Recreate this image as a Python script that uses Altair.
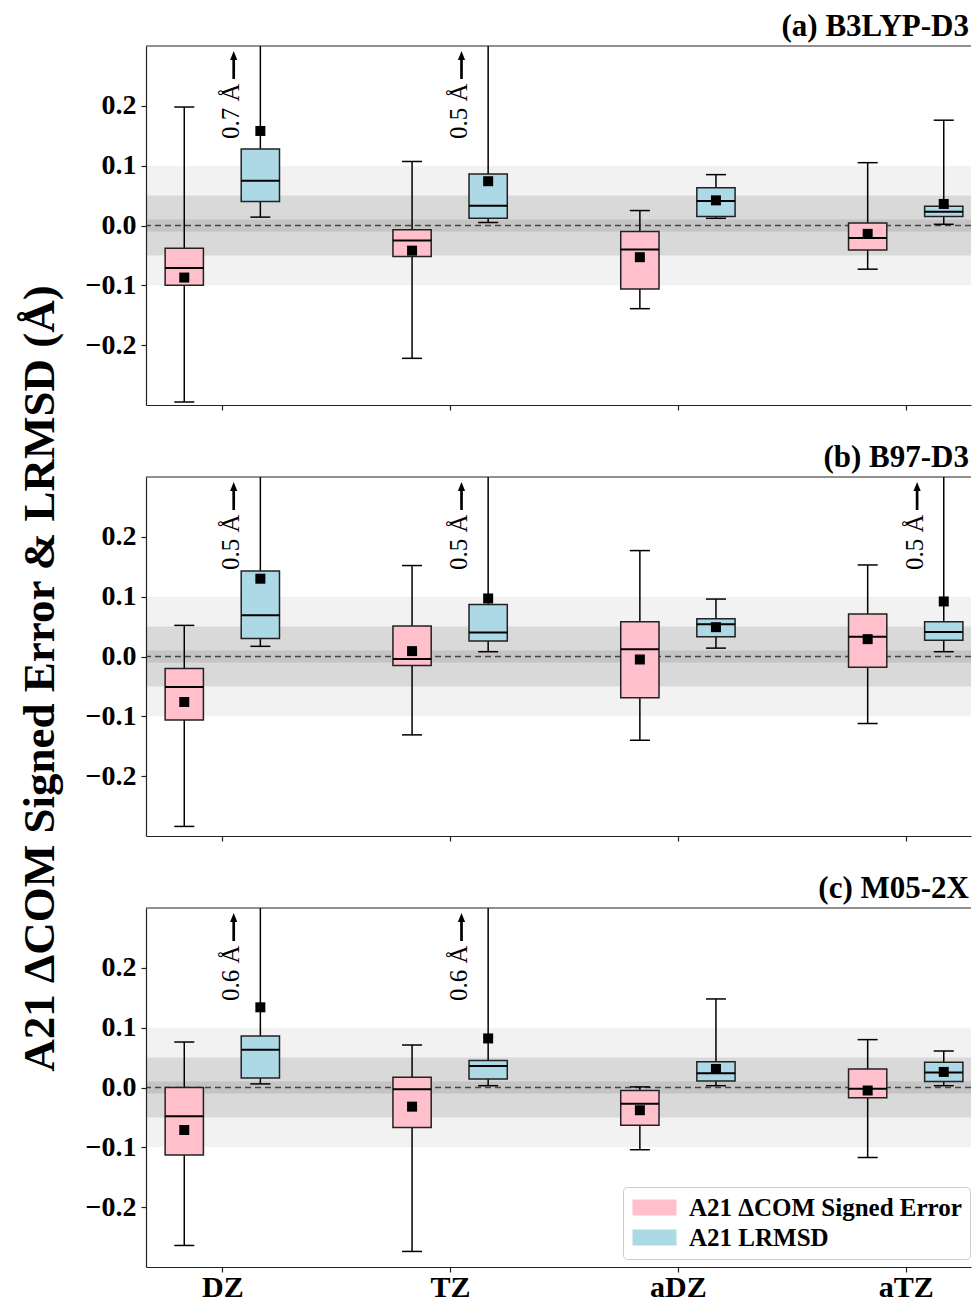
import altair as alt
import pandas as pd

categories = ["DZ", "TZ", "aDZ", "aTZ"]
panel_titles = ["(a) B3LYP-D3", "(b) B97-D3", "(c) M05-2X"]
series_names = ["A21 ΔCOM Signed Error", "A21 LRMSD"]
series_colors = ["#FFC0CB", "#ADD8E6"]
y_ticks = [-0.2, -0.1, 0.0, 0.1, 0.2]
band_limits = [0.1, 0.05, 0.01]
band_colors = ["#f2f2f2", "#d9d9d9", "#c4c4c4"]
y_title = "A21 ΔCOM Signed Error & LRMSD (Å)"

# one row per basis set: [whisker low, Q1, median, Q3, whisker high, mean]
b3lyp_signed = [[-0.295, -0.100, -0.071, -0.038, 0.198, -0.087],
                [-0.222, -0.052, -0.025, -0.007, 0.107, -0.042],
                [-0.139, -0.106, -0.040, -0.010, 0.025, -0.053],
                [-0.073, -0.041, -0.021, 0.004, 0.105, -0.014]]
b3lyp_lrmsd = [[0.014, 0.040, 0.075, 0.128, 0.7, 0.158],
               [0.005, 0.012, 0.033, 0.086, 0.5, 0.074],
               [0.012, 0.015, 0.041, 0.063, 0.085, 0.042],
               [0.002, 0.015, 0.023, 0.032, 0.176, 0.036]]
b97_signed = [[-0.284, -0.106, -0.051, -0.020, 0.052, -0.076],
              [-0.131, -0.015, -0.004, 0.051, 0.152, 0.009],
              [-0.140, -0.069, 0.012, 0.058, 0.177, -0.005],
              [-0.112, -0.018, 0.033, 0.071, 0.153, 0.029]]
b97_lrmsd = [[0.017, 0.030, 0.069, 0.143, 0.5, 0.130],
             [0.008, 0.026, 0.040, 0.087, 0.5, 0.097],
             [0.014, 0.033, 0.054, 0.063, 0.096, 0.049],
             [0.008, 0.027, 0.041, 0.058, 0.5, 0.092]]
m052x_signed = [[-0.264, -0.113, -0.048, 0.000, 0.076, -0.071],
                [-0.274, -0.067, -0.003, 0.017, 0.071, -0.032],
                [-0.104, -0.063, -0.027, -0.005, 0.001, -0.038],
                [-0.117, -0.017, -0.002, 0.031, 0.080, -0.005]]
m052x_lrmsd = [[0.006, 0.016, 0.063, 0.086, 0.6, 0.134],
               [0.003, 0.014, 0.036, 0.045, 0.6, 0.082],
               [0.003, 0.011, 0.024, 0.043, 0.148, 0.031],
               [0.003, 0.010, 0.025, 0.042, 0.061, 0.026]]

Y_MIN, Y_MAX = -0.3, 0.3
W, H = 825, 359
X_DOMAIN = [0.665, 0.665 + W / 227.8]
OFFSET, HALF, CAP = 0.167, 0.084, 0.044
ANN_TEXT, ANN_ARROW = 0.092, 0.117

rows = []
for p, pair in zip(panel_titles, [(b3lyp_signed, b3lyp_lrmsd),
                                  (b97_signed, b97_lrmsd),
                                  (m052x_signed, m052x_lrmsd)]):
    for s_i, (sname, stats) in enumerate(zip(series_names, pair)):
        for c_i, (cat, st) in enumerate(zip(categories, stats)):
            xc = c_i + 1 + (-OFFSET if s_i == 0 else OFFSET)
            lo, q1, med, q3, hi, mean = st
            rows.append(dict(panel=p, series=sname, cat=cat, xc=xc,
                             xl=xc - HALF, xr=xc + HALF, cl=xc - CAP, cr=xc + CAP,
                             lo=lo, q1=q1, med=med, q3=q3, hi=hi, mean=mean,
                             label=(f"{hi:.1f} Å" if hi > Y_MAX else ""),
                             tx=xc - ANN_TEXT, axp=xc - ANN_ARROW))
df = pd.DataFrame(rows)

bands_df = pd.DataFrame({"lo": [-b for b in band_limits], "hi": band_limits,
                         "shade": band_colors})
zero_df = pd.DataFrame({"v": [0.0]})

FONT = "Liberation Serif"
label_map = "[''," + ",".join(f"'{c}'" for c in categories) + "]"


def make_panel(i):
    d = df[df.panel == panel_titles[i]]
    last = i == 2
    xaxis = alt.Axis(values=[1, 2, 3, 4], labels=last,
                     labelExpr=label_map + "[datum.value]",
                     grid=False, ticks=True, tickSize=5, tickWidth=1.2,
                     tickColor="#222", domainColor="#222", domainWidth=1.2,
                     labelFont=FONT, labelFontSize=30, labelFontWeight="bold",
                     labelColor="black", labelPadding=0, title=None, zindex=1)
    ykw = dict(values=y_ticks,
               labelExpr="datum.value < 0 ? '\u2212' + format(-datum.value, '.1f') : format(datum.value, '.1f')",
               grid=False, tickSize=5, tickWidth=1.2, tickColor="#222",
               domainColor="#222", domainWidth=1.2, labelFont=FONT,
               labelFontSize=28, labelFontWeight="bold", labelColor="black",
               labelPadding=5, zindex=1)
    if i == 1:
        ykw.update(title=y_title, titleFont=FONT, titleFontSize=45,
                   titleFontWeight="bold", titleColor="black", titleAngle=270,
                   titleAlign="center", titleBaseline="middle",
                   titleX=-107, titleY=201)
    else:
        ykw.update(title=None)
    yaxis = alt.Axis(**ykw)
    xs = alt.Scale(domain=X_DOMAIN, nice=False, zero=False)
    ys = alt.Scale(domain=[Y_MIN, Y_MAX], nice=False, zero=False)

    def X(f):
        return alt.X(f, type="quantitative", scale=xs, axis=xaxis)

    def Y(f):
        return alt.Y(f, type="quantitative", scale=ys, axis=yaxis)

    legend = alt.Legend(orient="none", legendX=477, legendY=1141, title=None,
                        labelFont=FONT, labelFontSize=25, labelFontWeight="bold",
                        labelColor="black", labelLimit=500,
                        symbolType="M-2,-0.72L2,-0.72L2,0.72L-2,0.72Z",
                        symbolSize=484, symbolStrokeWidth=0, symbolOpacity=1,
                        symbolOffset=11,
                        fillColor="white", strokeColor="#cccccc", cornerRadius=4,
                        padding=8, rowPadding=4, labelOffset=22)

    base = alt.Chart(d)
    bands = alt.Chart(bands_df).mark_rect().encode(
        y=Y("lo"), y2="hi", fill=alt.Fill("shade:N", scale=None))
    zero = alt.Chart(zero_df).mark_rule(
        strokeDash=[6, 4], color="#444", strokeWidth=1.3).encode(y=Y("v"))
    wh_up = base.mark_rule(color="black", strokeWidth=1.5, clip=True).encode(
        x=X("xc"), y=Y("q3"), y2="hi")
    wh_lo = base.mark_rule(color="black", strokeWidth=1.5, clip=True).encode(
        x=X("xc"), y=Y("lo"), y2="q1")
    cap_up = base.mark_rule(color="black", strokeWidth=1.5, clip=True).encode(
        x=X("cl"), x2="cr", y=Y("hi"))
    cap_lo = base.mark_rule(color="black", strokeWidth=1.5, clip=True).encode(
        x=X("cl"), x2="cr", y=Y("lo"))
    boxes = base.mark_rect(stroke="#222", strokeWidth=1.5).encode(
        x=X("xl"), x2="xr", y=Y("q1"), y2="q3",
        fill=alt.Fill("series:N", scale=alt.Scale(domain=series_names,
                                                  range=series_colors),
                      legend=legend))
    medians = base.mark_rule(color="black", strokeWidth=2).encode(
        x=X("xl"), x2="xr", y=Y("med"))
    means = base.mark_square(size=100, color="black", opacity=1).encode(
        x=X("xc"), y=Y("mean"))
    ad = d[d.label != ""]
    ann = alt.Chart(ad).mark_text(
        angle=270, align="left", baseline="alphabetic", dx=-93, font=FONT,
        fontSize=25, color="black").encode(x=X("tx"), y=alt.value(0),
                                           text="label:N")
    shaft = alt.Chart(ad).mark_rule(color="black", strokeWidth=2.7).encode(
        x=X("axp"), y=alt.value(13), y2=alt.value(33))
    head = alt.Chart(ad).mark_point(
        shape="M0,-1L0.8,1L-0.8,1Z", filled=True, size=81, color="black",
        opacity=1).encode(x=X("axp"), y=alt.value(9.5))
    top = alt.Chart(zero_df).mark_rule(color="#222", strokeWidth=1.2).encode(
        y=alt.value(0))
    title = alt.Chart(pd.DataFrame({"t": [panel_titles[i]]})).mark_text(
        align="right", baseline="alphabetic", font=FONT, fontSize=31,
        fontWeight="bold", color="black").encode(
        x=alt.value(W - 2), y=alt.value(-10), text="t:N")
    return alt.layer(bands, zero, wh_up, wh_lo, cap_up, cap_lo, boxes,
                     medians, means, ann, shaft, head, top, title).properties(
        width=W, height=H)


chart = alt.vconcat(*[make_panel(i) for i in range(3)], spacing=72,
                    bounds="flush").properties(
    padding={"left": 8, "top": 3, "right": 0, "bottom": 0}
).configure_view(stroke=None)

chart.save("out.html", embed_options={"renderer": "svg", "actions": False})
